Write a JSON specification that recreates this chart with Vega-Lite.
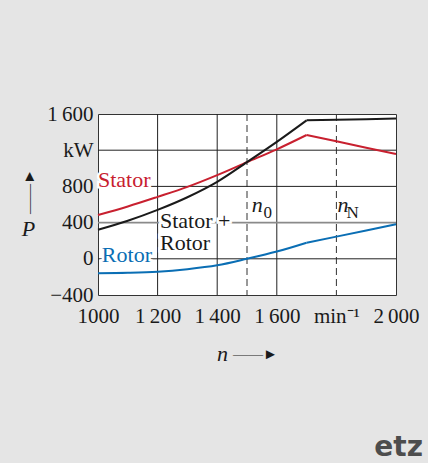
{
  "$schema": "https://vega.github.io/schema/vega-lite/v6.json",
  "width": 298,
  "height": 181,
  "autosize": "none",
  "padding": {"left": 98, "top": 114, "right": 32, "bottom": 168},
  "background": "#e5e5e5",
  "config": {
    "view": {"fill": "white", "stroke": "#333333", "strokeWidth": 1},
    "font": "Liberation Serif"
  },
  "title": {
    "text": "etz",
    "orient": "bottom",
    "anchor": "end",
    "frame": "group",
    "font": "DejaVu Sans",
    "fontWeight": "bold",
    "fontSize": 28,
    "color": "#4d4d4d",
    "baseline": "alphabetic",
    "dx": 27,
    "dy": 88
  },
  "datasets": {
    "curves": [
      {"series": "Stator", "part": "curve", "n": 1000, "P": 484},
      {"series": "Stator", "part": "curve", "n": 1100, "P": 578},
      {"series": "Stator", "part": "curve", "n": 1200, "P": 684},
      {"series": "Stator", "part": "curve", "n": 1300, "P": 795},
      {"series": "Stator", "part": "curve", "n": 1400, "P": 925},
      {"series": "Stator", "part": "curve", "n": 1500, "P": 1068},
      {"series": "Stator", "part": "curve", "n": 1600, "P": 1210},
      {"series": "Stator", "part": "curve", "n": 1700, "P": 1368},
      {"series": "Stator", "part": "straight", "n": 1700, "P": 1368},
      {"series": "Stator", "part": "straight", "n": 1800, "P": 1298},
      {"series": "Stator", "part": "straight", "n": 1900, "P": 1228},
      {"series": "Stator", "part": "straight", "n": 2000, "P": 1158},
      {"series": "Stator + Rotor", "part": "curve", "n": 1000, "P": 320},
      {"series": "Stator + Rotor", "part": "curve", "n": 1100, "P": 420},
      {"series": "Stator + Rotor", "part": "curve", "n": 1200, "P": 540},
      {"series": "Stator + Rotor", "part": "curve", "n": 1300, "P": 680},
      {"series": "Stator + Rotor", "part": "curve", "n": 1400, "P": 850},
      {"series": "Stator + Rotor", "part": "curve", "n": 1500, "P": 1068},
      {"series": "Stator + Rotor", "part": "curve", "n": 1600, "P": 1292},
      {"series": "Stator + Rotor", "part": "curve", "n": 1700, "P": 1530},
      {"series": "Stator + Rotor", "part": "straight", "n": 1700, "P": 1530},
      {"series": "Stator + Rotor", "part": "straight", "n": 1800, "P": 1537},
      {"series": "Stator + Rotor", "part": "straight", "n": 1900, "P": 1543},
      {"series": "Stator + Rotor", "part": "straight", "n": 2000, "P": 1550},
      {"series": "Rotor", "part": "curve", "n": 1000, "P": -160},
      {"series": "Rotor", "part": "curve", "n": 1100, "P": -155},
      {"series": "Rotor", "part": "curve", "n": 1200, "P": -143},
      {"series": "Rotor", "part": "curve", "n": 1300, "P": -115},
      {"series": "Rotor", "part": "curve", "n": 1400, "P": -72},
      {"series": "Rotor", "part": "curve", "n": 1500, "P": 0},
      {"series": "Rotor", "part": "curve", "n": 1600, "P": 80},
      {"series": "Rotor", "part": "curve", "n": 1700, "P": 178},
      {"series": "Rotor", "part": "straight", "n": 1700, "P": 178},
      {"series": "Rotor", "part": "straight", "n": 1800, "P": 245},
      {"series": "Rotor", "part": "straight", "n": 1900, "P": 313},
      {"series": "Rotor", "part": "straight", "n": 2000, "P": 381}
    ],
    "vgrid": [
      {"n": 1200, "line": "grid"},
      {"n": 1400, "line": "grid"},
      {"n": 1600, "line": "grid"},
      {"n": 1500, "line": "n0"},
      {"n": 1800, "line": "nN"}
    ],
    "hgrid": [
      {"P": 1200},
      {"P": 800},
      {"P": 400},
      {"P": 0}
    ],
    "labels": [
      {"text": "Stator", "n": 1000, "P": 790, "group": "Stator"},
      {"text": "Stator +", "n": 1208, "P": 337, "group": "Sum"},
      {"text": "Rotor", "n": 1208, "P": 100, "group": "Sum"},
      {"text": "Rotor", "n": 1013, "P": -35, "group": "Rotor"},
      {"text": "n", "n": 1516, "P": 520, "group": "speed"},
      {"text": "0", "n": 1555, "P": 450, "group": "sub"},
      {"text": "n", "n": 1804, "P": 520, "group": "speed"},
      {"text": "N", "n": 1834, "P": 450, "group": "sub"}
    ]
  },
  "layer": [
    {
      "data": {"name": "vgrid"},
      "transform": [{"filter": "datum.line == 'grid'"}],
      "mark": {"type": "rule", "color": "#222222", "strokeWidth": 1},
      "encoding": {
        "x": {"field": "n", "type": "quantitative", "scale": {"domain": [1000, 2000], "nice": false, "zero": false}, "axis": null}
      }
    },
    {
      "data": {"name": "vgrid"},
      "transform": [{"filter": "datum.line != 'grid'"}],
      "mark": {"type": "rule", "color": "#333333", "strokeWidth": 1, "strokeDash": [7, 4]},
      "encoding": {
        "x": {"field": "n", "type": "quantitative", "axis": null}
      }
    },
    {
      "data": {"name": "hgrid"},
      "transform": [{"filter": "datum.P != 400"}],
      "mark": {"type": "rule", "color": "#222222", "strokeWidth": 1},
      "encoding": {
        "y": {"field": "P", "type": "quantitative", "scale": {"domain": [-400, 1600], "nice": false, "zero": false}, "axis": null}
      }
    },
    {
      "data": {"name": "hgrid"},
      "transform": [{"filter": "datum.P == 400"}],
      "mark": {"type": "rule", "color": "#8a8a8a", "strokeWidth": 1.8},
      "encoding": {
        "y": {"field": "P", "type": "quantitative", "axis": null}
      }
    },
    {
      "data": {"name": "labels"},
      "transform": [{"filter": "datum.group == 'Stator' || datum.group == 'Sum' || datum.group == 'Rotor'"}],
      "mark": {"type": "text", "align": "left", "baseline": "alphabetic", "fontSize": 22, "fill": "white", "stroke": "white", "strokeWidth": 5},
      "encoding": {
        "x": {"field": "n", "type": "quantitative", "axis": null},
        "y": {"field": "P", "type": "quantitative", "axis": null},
        "text": {"field": "text"}
      }
    },
    {
      "data": {"name": "curves"},
      "transform": [{"filter": "datum.part == 'curve'"}],
      "mark": {"type": "line", "interpolate": "monotone", "strokeWidth": 2},
      "encoding": {
        "x": {
          "field": "n", "type": "quantitative",
          "axis": {
            "values": [1000, 1200, 1400, 1600, 1800, 2000],
            "labelExpr": "datum.value == 1800 ? 'min\u207b\u00b9' : datum.value == 1000 ? '1000' : slice(datum.value + '', 0, 1) + '\u2009' + slice(datum.value + '', 1)",
            "labelFont": "Liberation Serif", "labelFontSize": 21, "labelColor": "#1a1a1a",
            "labelPadding": 10, "labelOverlap": false, "labelFlush": false,
            "ticks": false, "domain": false, "grid": false,
            "title": "n", "titleFont": "Liberation Serif", "titleFontSize": 22, "titleFontStyle": "italic", "titleFontWeight": "normal", "titleColor": "#1a1a1a",
            "titleX": 124, "titleY": 65, "titleAlign": "center", "titleBaseline": "alphabetic"
          }
        },
        "y": {
          "field": "P", "type": "quantitative",
          "axis": {
            "values": [-400, 0, 400, 800, 1200, 1600],
            "labelExpr": "datum.value == 1600 ? '1\u2009600' : datum.value == 1200 ? 'kW' : datum.value == -400 ? '\u2212400' : datum.value + ''",
            "labelFont": "Liberation Serif", "labelFontSize": 21, "labelColor": "#1a1a1a",
            "labelPadding": 5, "labelOverlap": false, "labelFlush": false,
            "ticks": false, "domain": false, "grid": false,
            "title": "P", "titleFont": "Liberation Serif", "titleFontSize": 22, "titleFontStyle": "italic", "titleFontWeight": "normal", "titleColor": "#1a1a1a",
            "titleAngle": 0, "titleX": -70, "titleY": 121, "titleAlign": "center", "titleBaseline": "alphabetic"
          }
        },
        "color": {
          "field": "series", "type": "nominal",
          "scale": {"domain": ["Stator", "Stator + Rotor", "Rotor"], "range": ["#c8202f", "#1a1a1a", "#0a6eb4"]},
          "legend": null
        },
        "detail": {"field": "series"}
      }
    },
    {
      "data": {"name": "curves"},
      "transform": [{"filter": "datum.part == 'straight'"}],
      "mark": {"type": "line", "interpolate": "linear", "strokeWidth": 2},
      "encoding": {
        "x": {"field": "n", "type": "quantitative", "axis": null},
        "y": {"field": "P", "type": "quantitative", "axis": null},
        "color": {"field": "series", "type": "nominal", "legend": null}
      }
    },
    {
      "data": {"name": "labels"},
      "transform": [{"filter": "datum.group == 'Stator'"}],
      "mark": {"type": "text", "align": "left", "baseline": "alphabetic", "fontSize": 22, "color": "#c8202f"},
      "encoding": {
        "x": {
          "field": "n", "type": "quantitative",
          "axis": {
            "orient": "top", "labels": false, "ticks": false, "domain": false, "grid": false,
            "title": "\u2014\u2014\u25ba", "titleFont": "Liberation Serif", "titleFontSize": 15, "titleFontWeight": "normal", "titleColor": "#1a1a1a",
            "titleX": 157, "titleY": 239, "titleAlign": "center", "titleBaseline": "middle", "titleAngle": 0
          }
        },
        "y": {
          "field": "P", "type": "quantitative",
          "axis": {
            "orient": "right", "labels": false, "ticks": false, "domain": false, "grid": false,
            "title": "\u2014\u2014\u25ba", "titleFont": "Liberation Serif", "titleFontSize": 15, "titleFontWeight": "normal", "titleColor": "#1a1a1a",
            "titleX": -368, "titleY": 77, "titleAlign": "center", "titleBaseline": "middle", "titleAngle": 270
          }
        },
        "text": {"field": "text"}
      }
    },
    {
      "data": {"name": "labels"},
      "transform": [{"filter": "datum.group == 'Sum'"}],
      "mark": {"type": "text", "align": "left", "baseline": "alphabetic", "fontSize": 22, "color": "#1a1a1a"},
      "encoding": {
        "x": {"field": "n", "type": "quantitative", "axis": null},
        "y": {"field": "P", "type": "quantitative", "axis": null},
        "text": {"field": "text"}
      }
    },
    {
      "data": {"name": "labels"},
      "transform": [{"filter": "datum.group == 'Rotor'"}],
      "mark": {"type": "text", "align": "left", "baseline": "alphabetic", "fontSize": 22, "color": "#0a6eb4"},
      "encoding": {
        "x": {"field": "n", "type": "quantitative", "axis": null},
        "y": {"field": "P", "type": "quantitative", "axis": null},
        "text": {"field": "text"}
      }
    },
    {
      "data": {"name": "labels"},
      "transform": [{"filter": "datum.group == 'speed'"}],
      "mark": {"type": "text", "align": "left", "baseline": "alphabetic", "fontSize": 22, "fontStyle": "italic", "color": "#1a1a1a"},
      "encoding": {
        "x": {"field": "n", "type": "quantitative", "axis": null},
        "y": {"field": "P", "type": "quantitative", "axis": null},
        "text": {"field": "text"}
      }
    },
    {
      "data": {"name": "labels"},
      "transform": [{"filter": "datum.group == 'sub'"}],
      "mark": {"type": "text", "align": "left", "baseline": "alphabetic", "fontSize": 17, "color": "#1a1a1a"},
      "encoding": {
        "x": {"field": "n", "type": "quantitative", "axis": null},
        "y": {"field": "P", "type": "quantitative", "axis": null},
        "text": {"field": "text"}
      }
    }
  ],
  "resolve": {
    "scale": {"x": "shared", "y": "shared"},
    "axis": {"x": "independent", "y": "independent"}
  }
}
